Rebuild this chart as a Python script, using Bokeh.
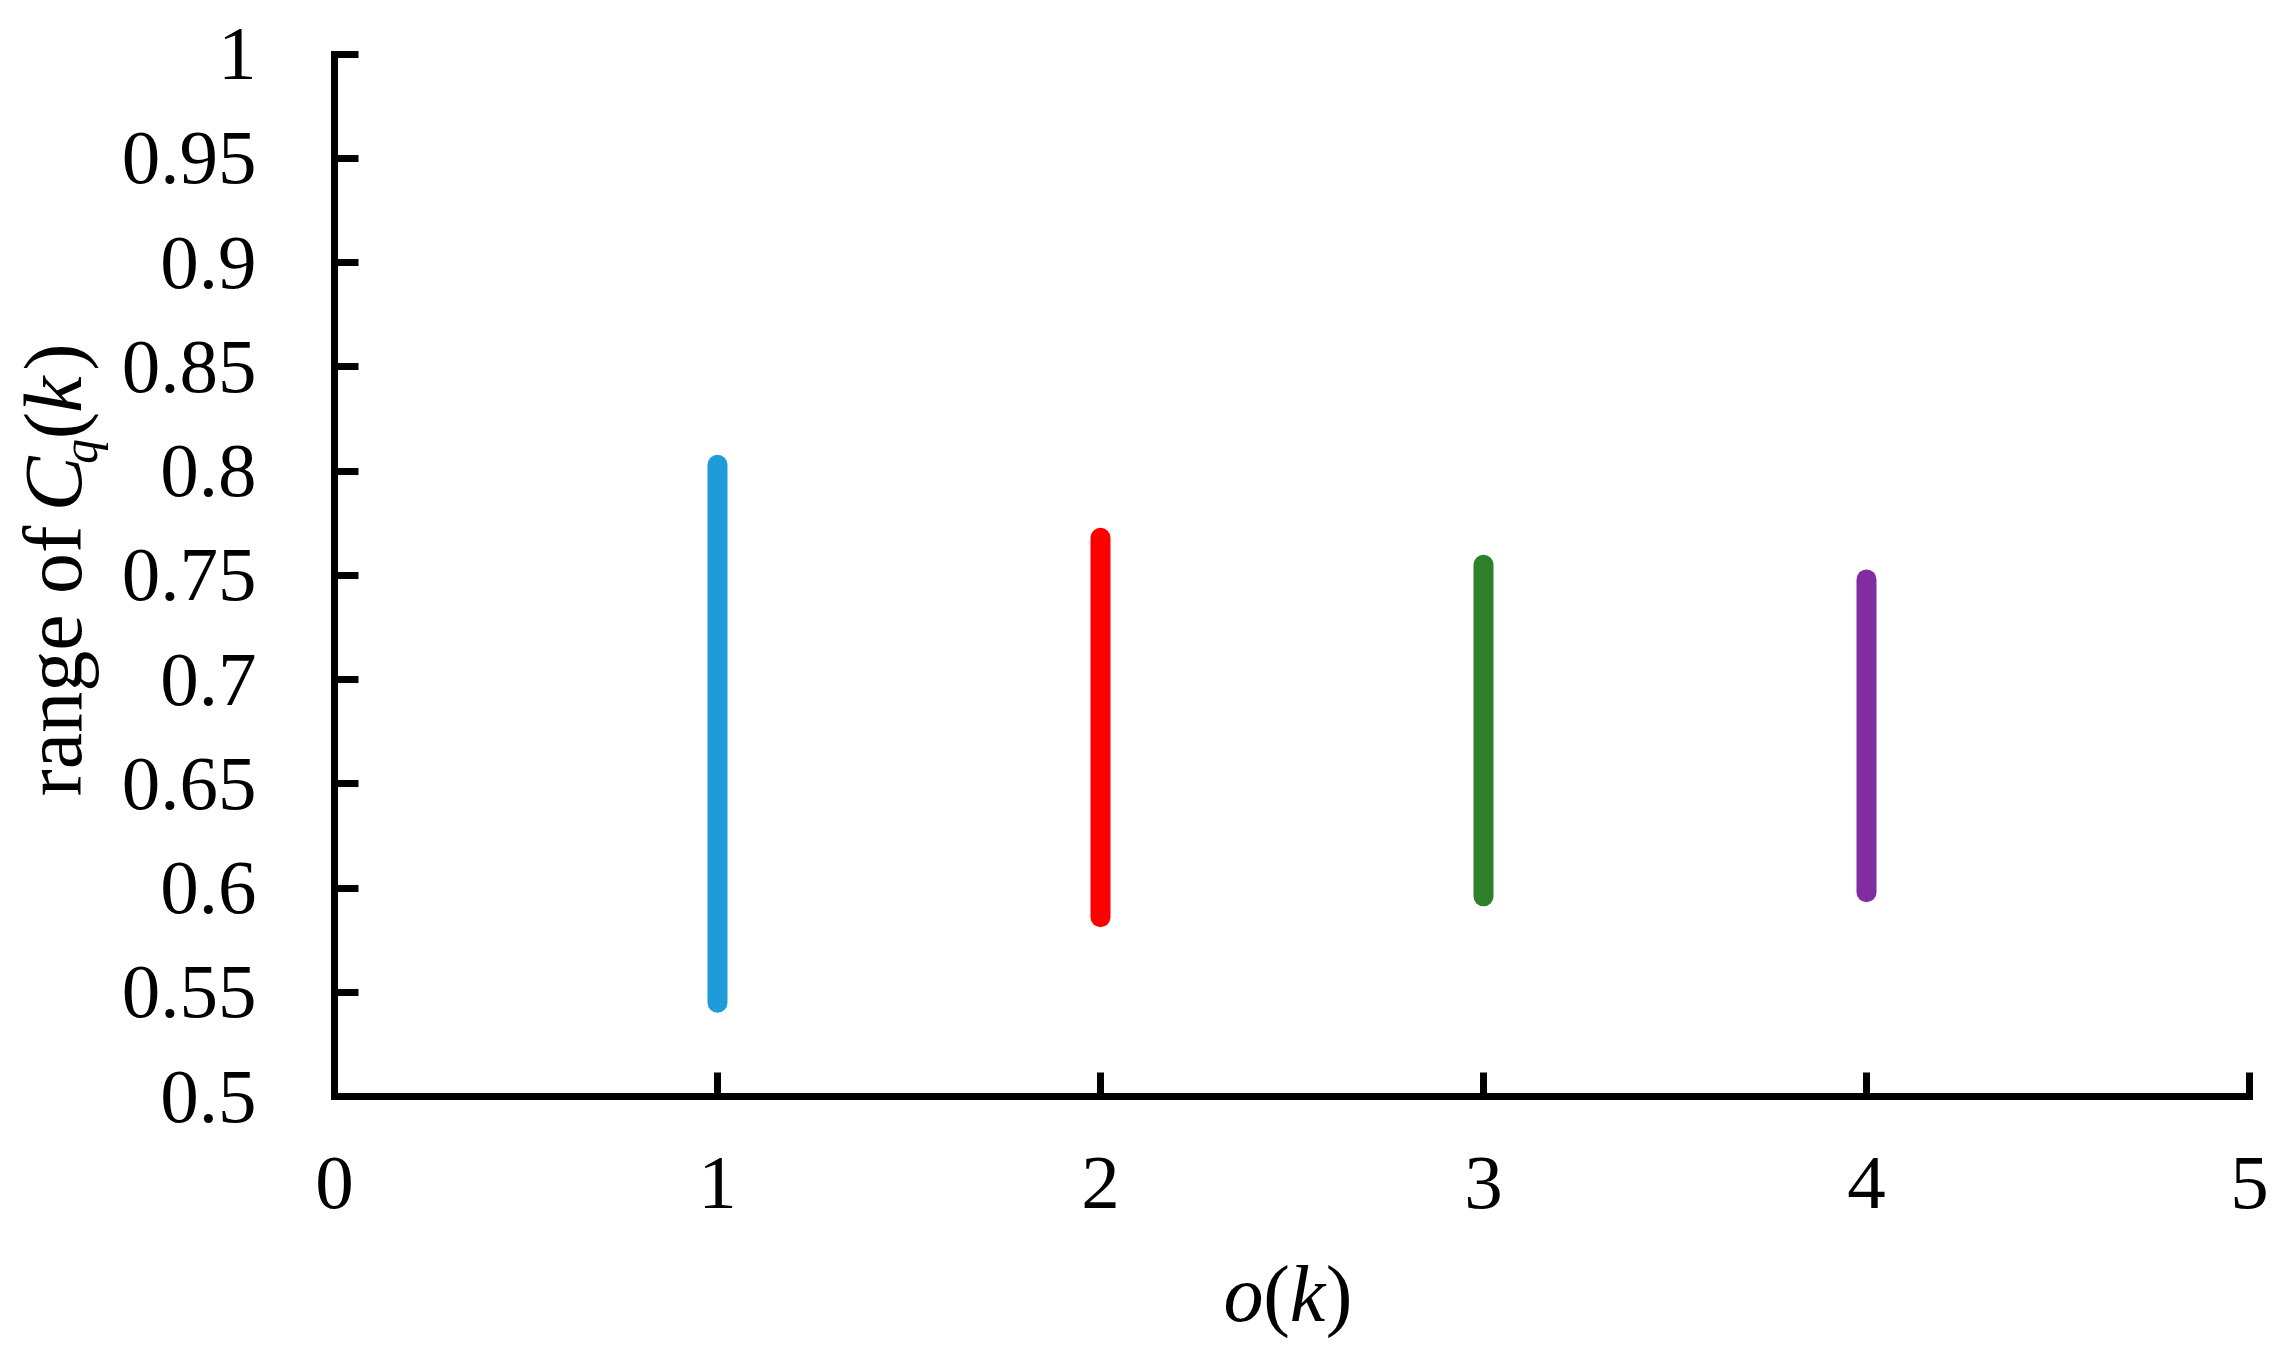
import math
from bokeh.plotting import figure
from bokeh.models import Range1d, FixedTicker, Label, ColumnDataSource, LinearAxis
from bokeh.embed import file_html
from bokeh.resources import INLINE

# ---- data ----
orders = [1, 2, 3, 4]
cq_low = [0.545, 0.586, 0.596, 0.598]
cq_high = [0.803, 0.768, 0.755, 0.748]
bar_colors = ["#1e9bd8", "#ff0000", "#2e802b", "#812ca0"]

x_ticks = [0, 1, 2, 3, 4, 5]
x_tick_labels = ["0", "1", "2", "3", "4", "5"]
y_ticks = [0.5, 0.55, 0.6, 0.65, 0.7, 0.75, 0.8, 0.85, 0.9, 0.95, 1.0]
y_tick_labels = ["0.5", "0.55", "0.6", "0.65", "0.7", "0.75", "0.8", "0.85", "0.9", "0.95", "1"]

FONT = "Liberation Serif"
FS = "77px"
TS = "82px"

W, H = 2290, 1350
# pixel layout of the axes box (left, right, top, bottom) in canvas pixels
BOX_L, BOX_R, BOX_T, BOX_B = 334.0, 2249.0, 53.5, 1096.0
x0, x1 = x_ticks[0], x_ticks[-1]
y0, y1 = y_ticks[0], y_ticks[-1]
xpp = (x1 - x0) / (BOX_R - BOX_L)
ypp = (y1 - y0) / (BOX_B - BOX_T)
x_range = Range1d(x0 - BOX_L * xpp, x1 + (W - BOX_R) * xpp)
y_range = Range1d(y0 - (H - BOX_B) * ypp, y1 + BOX_T * ypp)

p = figure(width=W, height=H, output_backend="svg", toolbar_location=None,
           x_range=x_range, y_range=y_range,
           x_axis_location=None, y_axis_location=None, min_border=0)
p.outline_line_color = None
p.grid.visible = False
p.background_fill_color = "white"
p.border_fill_color = "white"

src = ColumnDataSource(dict(x=orders, lo=cq_low, hi=cq_high, c=bar_colors))
p.segment(x0="x", y0="lo", x1="x", y1="hi", source=src, line_color="c",
          line_width=20, line_cap="round")

xax = LinearAxis(fixed_location=y0, bounds=(x0, x1))
yax = LinearAxis(fixed_location=x0, bounds=(y0, y1))
p.add_layout(xax, "below")
p.add_layout(yax, "left")

for ax, ticks, labels, standoff in ((xax, x_ticks, x_tick_labels, 61),
                                    (yax, y_ticks, y_tick_labels, 78)):
    ax.ticker = FixedTicker(ticks=ticks)
    ax.major_label_overrides = {t: l for t, l in zip(ticks, labels)}
    ax.axis_line_width = 7
    ax.axis_line_color = "black"
    ax.axis_line_cap = "square"
    ax.major_tick_line_width = 7
    ax.major_tick_line_color = "black"
    ax.major_tick_in = 24
    ax.major_tick_out = 0
    ax.minor_tick_line_color = None
    ax.major_label_text_font = FONT
    ax.major_label_text_font_size = FS
    ax.major_label_text_color = "black"
    ax.major_label_standoff = standoff

# ---- x axis title: o(k) ----  (screen units: from canvas left / bottom)
XS = "80px"
x_parts = [("o", "italic", 1243), ("(", "normal", 1276), ("k", "italic", 1307), (")", "normal", 1338.5)]
for txt, style, sx in x_parts:
    p.add_layout(Label(x=sx, y=57, x_units="screen", y_units="screen", text=txt,
                       text_font=FONT, text_font_size=XS, text_font_style=style,
                       text_align="center", text_baseline="alphabetic", text_color="black"))

# ---- y axis title: range of C_q(k) (rotated) ----
ang = math.pi / 2
p.add_layout(Label(x=53, y=H - 796, x_units="screen", y_units="screen", text="range of",
                   angle=ang, text_font=FONT, text_font_size=TS, text_font_style="normal",
                   text_align="left", text_baseline="alphabetic", text_color="black"))
y_parts = [("C", "italic", TS, 53, 483.5), ("q", "italic", "50px", 79, 451),
           ("(", "normal", TS, 53, 425), ("k", "italic", TS, 53, 394),
           (")", "normal", TS, 53, 356.5)]
for txt, style, size, sx, sy in y_parts:
    p.add_layout(Label(x=sx, y=H - sy, x_units="screen", y_units="screen", text=txt,
                       angle=ang, text_font=FONT, text_font_size=size, text_font_style=style,
                       text_align="center", text_baseline="alphabetic", text_color="black"))

open("out.html", "w").write(file_html(p, INLINE))
